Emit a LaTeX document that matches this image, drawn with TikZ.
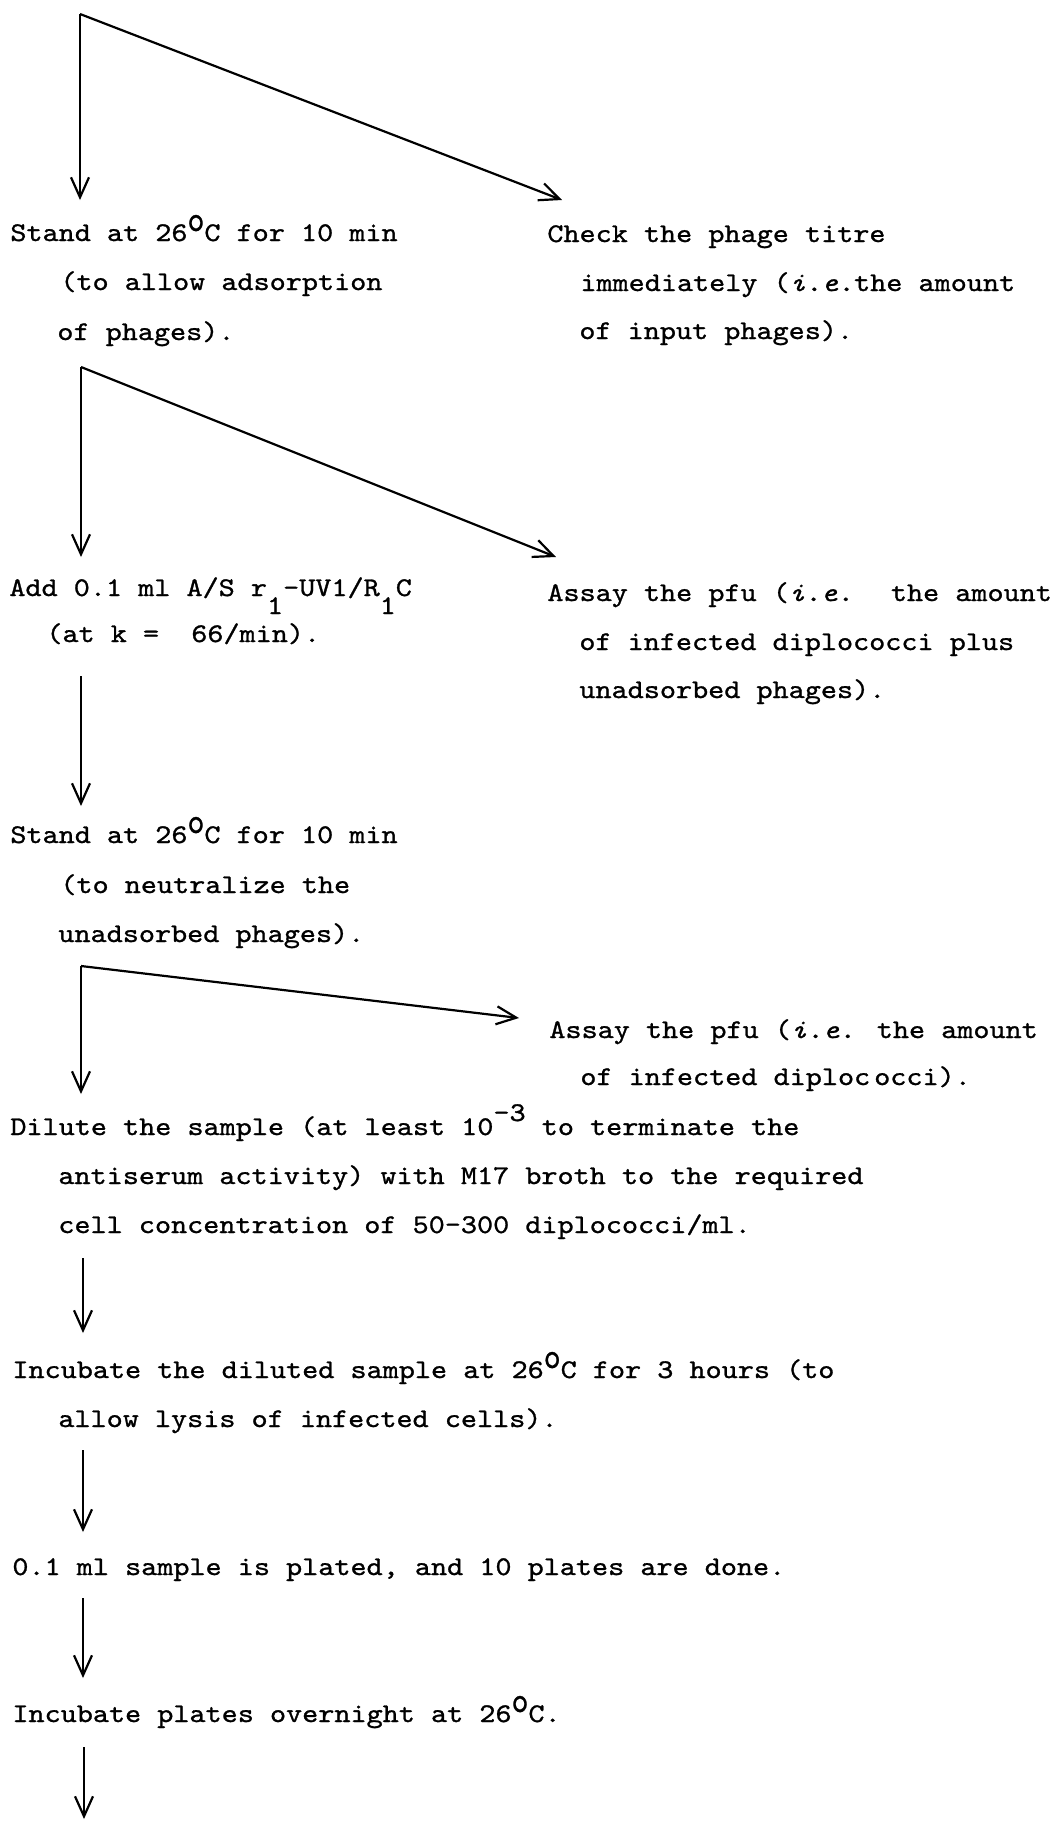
\documentclass[tikz,border=0pt]{standalone}
\usepackage{graphicx}
\usepackage{fontspec}
\newfontfamily\tw{lmmono10-regular.otf}[ItalicFont=lmmono10-italic.otf, FakeStretch=1.136, FakeBold=1]
\usetikzlibrary{arrows.meta}
\newcommand\dg{\raisebox{5pt}{\scalebox{1.05}[1.35]{o}}}
\newcommand\sbo{\raisebox{-9pt}{1}}
\newcommand\spm{\raisebox{7pt}{-3}}
\tikzset{
  txt/.style={anchor=base west, inner sep=0pt, font={\tw\fontsize{13.5pt}{16pt}\selectfont}},
  arr/.style={line width=1.1pt, -{Straight Barb[length=10pt,width=9pt]}},
}
\begin{document}
\begin{tikzpicture}[x=0.5pt,y=-0.5pt]
\fill[white] (0,0) rectangle (1056,1821);
\useasboundingbox (0,0) rectangle (1056,1821);

% branch 1
\coordinate (c1) at (80,14);
\coordinate (v1) at (80,200);
\coordinate (d1) at (562,200);
\draw[arr] (c1) -- (v1);
\draw[arr] (c1) -- (d1);

\node[txt] (s1a) at (10,241) {Stand at 26\dg C for 10 min};
\node[txt] (s1b) at (60,290) {(to allow adsorption};
\node[txt] (s1c) at (57,340) {of phages).};
\node[txt] (r1a) at (547,242) {Check the phage titre};
\node[txt] (r1b) at (580,291) {immediately (\textit{i.e.}the amount};
\node[txt] (r1c) at (579,339) {of input phages).};

% branch 2
\coordinate (c2) at (81,367);
\coordinate (v2) at (81,557);
\coordinate (d2) at (556,557);
\draw[arr] (c2) -- (v2);
\draw[arr] (c2) -- (d2);

\node[txt] (s2a) at (9,596) {Add 0.1 ml A/S r\sbo-UV1/R\sbo C};
\node[txt] (s2b) at (46,642) {(at k =~ 66/min).};
\node[txt] (r2a) at (547,601) {Assay the pfu (\textit{i.e.}~ the amount};
\node[txt] (r2b) at (579,650) {of infected diplococci plus};
\node[txt] (r2c) at (579,698) {unadsorbed phages).};

% arrow 3
\coordinate (a3s) at (81,676);
\coordinate (a3e) at (81,806);
\draw[arr] (a3s) -- (a3e);

\node[txt] (s3a) at (10,843) {Stand at 26\dg C for 10 min};
\node[txt] (s3b) at (60,893) {(to neutralize the};
\node[txt] (s3c) at (58,942) {unadsorbed phages).};

% branch 4
\coordinate (c4) at (81,966);
\coordinate (v4) at (81,1094);
\coordinate (d4) at (519,1018);
\draw[arr] (c4) -- (v4);
\draw[arr] (c4) -- (d4);

\node[txt] (r4a) at (549,1038) {Assay the pfu (\textit{i.e.} the amount};
\node[txt] (r4b) at (580,1085) {of infected diploc\kern2pt occi).};

\node[txt] (s4a) at (10,1135) {Dilute the sample (at least 10\spm\ to terminate the};
\node[txt] (s4b) at (58,1184) {antiserum activity) with M17 broth to the required};
\node[txt] (s4c) at (58,1233) {cell concentration of 50-300 diplococci/ml.};

% arrow 5
\coordinate (a5s) at (83,1258);
\coordinate (a5e) at (83,1333);
\draw[arr] (a5s) -- (a5e);

\node[txt] (s5a) at (12,1378) {Incubate the diluted sample at 26\dg C for 3 hours (to};
\node[txt] (s5b) at (58,1427) {allow lysis of infected cells).};

% arrow 6
\coordinate (a6s) at (83,1450);
\coordinate (a6e) at (83,1532);
\draw[arr] (a6s) -- (a6e);

\node[txt] (s6) at (12,1575) {0.1 ml sample is plated, and 10 plates are done.};

% arrow 7
\coordinate (a7s) at (83,1598);
\coordinate (a7e) at (83,1678);
\draw[arr] (a7s) -- (a7e);

\node[txt] (s7) at (12,1722) {Incubate plates overnight at 26\dg C.};

% arrow 8
\coordinate (a8s) at (84,1747);
\coordinate (a8e) at (84,1819);
\draw[arr] (a8s) -- (a8e);
\end{tikzpicture}
\end{document}
